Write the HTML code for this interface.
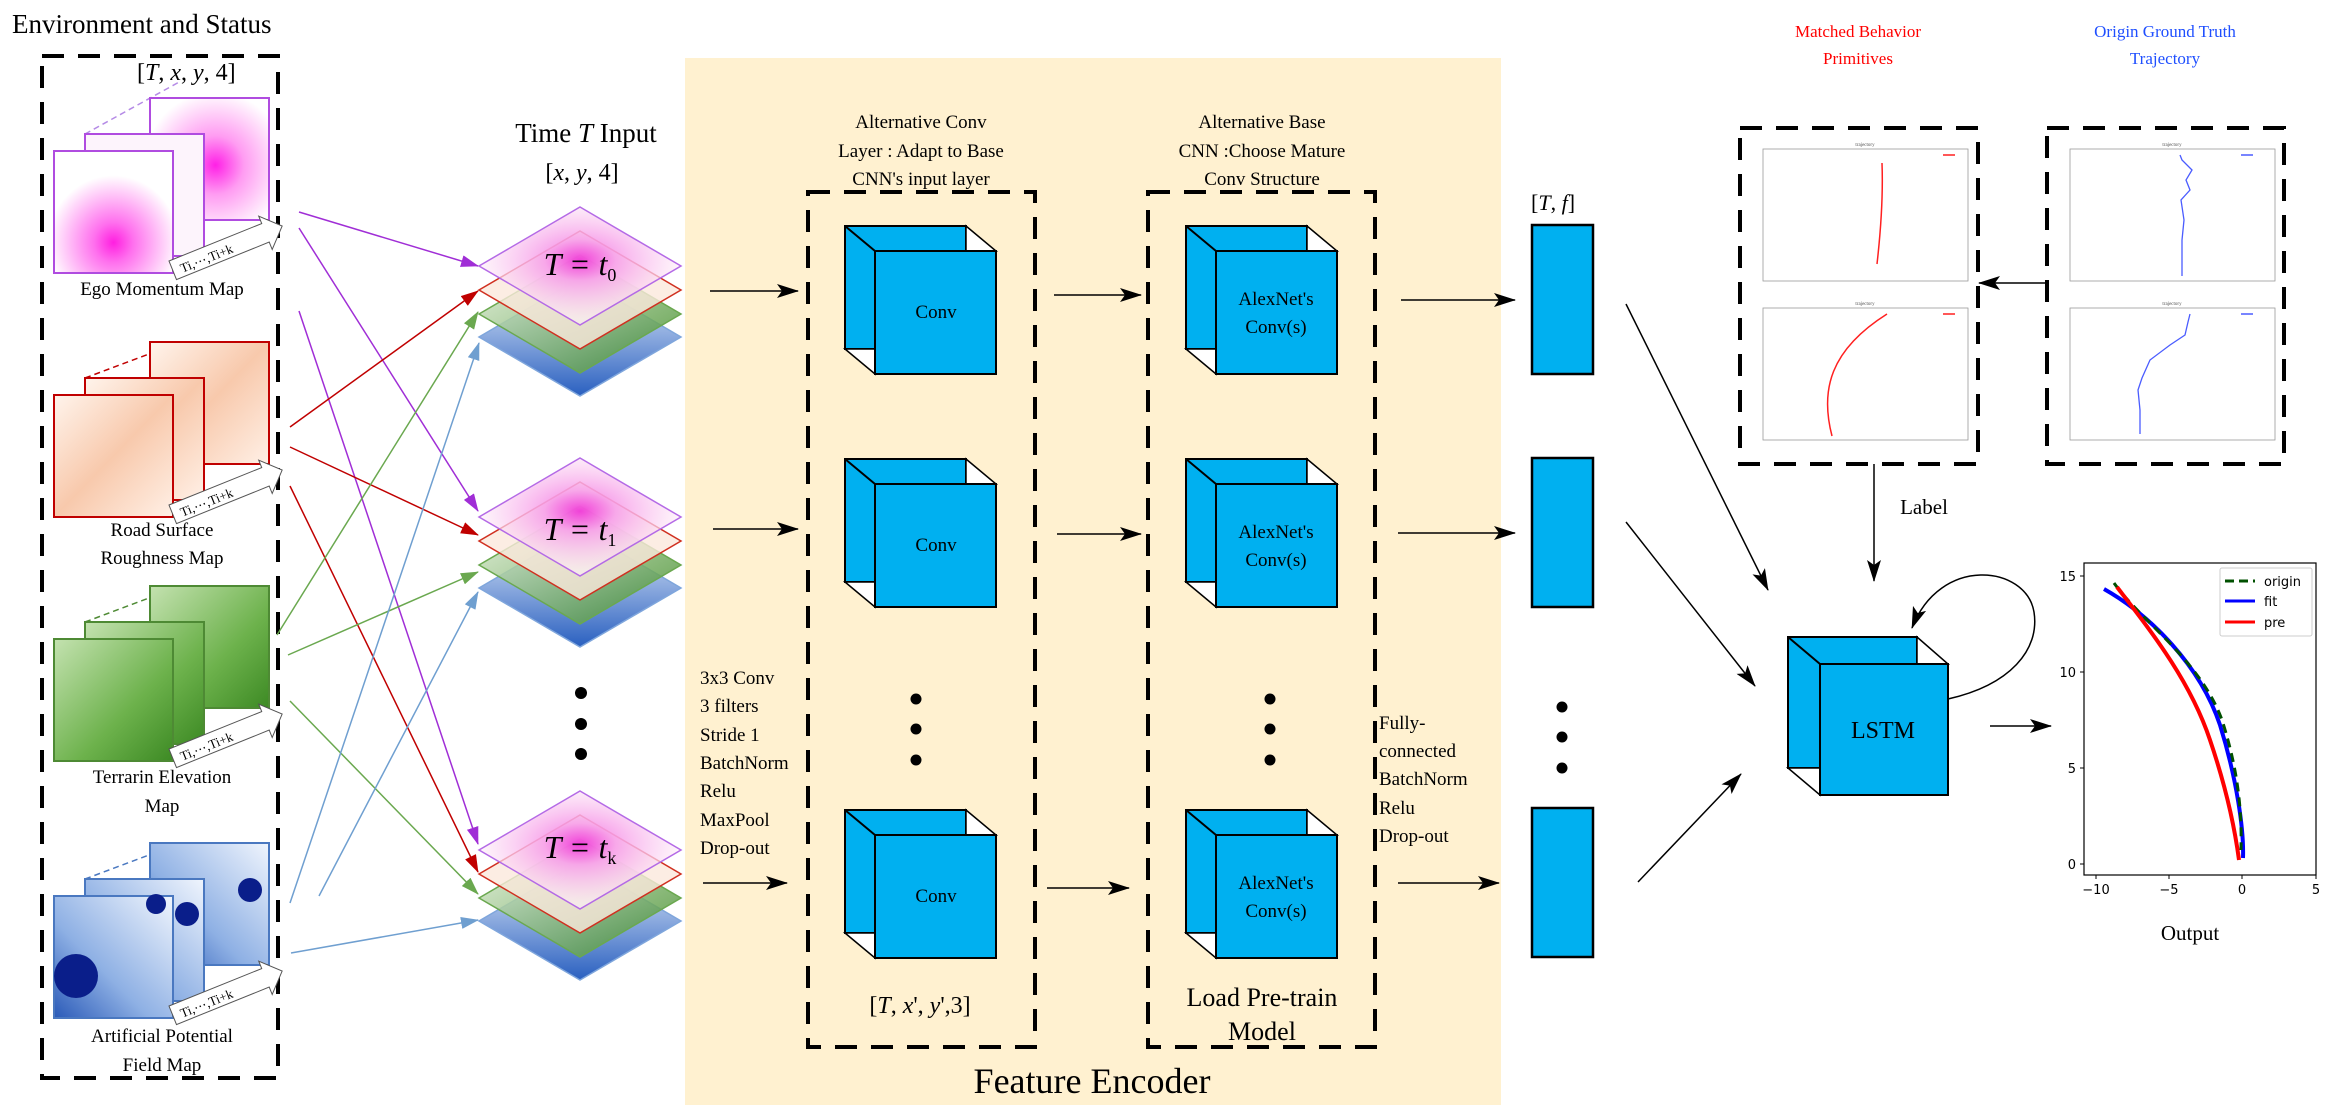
<!DOCTYPE html>
<html><head><meta charset="utf-8"><style>
html,body{margin:0;padding:0;background:#fff;}
svg{display:block;font-family:"Liberation Serif",serif;}
</style></head><body>
<svg width="2331" height="1109" viewBox="0 0 2331 1109" xmlns="http://www.w3.org/2000/svg">
<defs>
<marker id="ak" markerWidth="10" markerHeight="8" refX="9" refY="4" orient="auto" markerUnits="userSpaceOnUse" viewBox="0 0 10 8"><path d="M0,0 L10,4 L0,8 L2,4z" fill="#000"/></marker>
<marker id="ab" markerWidth="22" markerHeight="14" refX="21" refY="7" orient="auto" markerUnits="userSpaceOnUse" viewBox="0 0 22 14"><path d="M0,0 L22,7 L0,14 L5,7z" fill="#000"/></marker>
<marker id="ap" markerWidth="18" markerHeight="12" refX="17" refY="6" orient="auto" markerUnits="userSpaceOnUse" viewBox="0 0 18 12"><path d="M0,0 L18,6 L0,12z" fill="#a02ed6"/></marker>
<marker id="ar" markerWidth="18" markerHeight="12" refX="17" refY="6" orient="auto" markerUnits="userSpaceOnUse" viewBox="0 0 18 12"><path d="M0,0 L18,6 L0,12z" fill="#c00000"/></marker>
<marker id="ag" markerWidth="18" markerHeight="12" refX="17" refY="6" orient="auto" markerUnits="userSpaceOnUse" viewBox="0 0 18 12"><path d="M0,0 L18,6 L0,12z" fill="#6aa84f"/></marker>
<marker id="abl" markerWidth="18" markerHeight="12" refX="17" refY="6" orient="auto" markerUnits="userSpaceOnUse" viewBox="0 0 18 12"><path d="M0,0 L18,6 L0,12z" fill="#6f9fd0"/></marker>
<radialGradient id="gEgo" cx="0.5" cy="0.75" r="0.55"><stop offset="0" stop-color="#ff1fe0"/><stop offset="0.3" stop-color="#ff70ee"/><stop offset="1" stop-color="#fff"/></radialGradient>
<radialGradient id="gEgo2" cx="0.55" cy="0.55" r="0.6"><stop offset="0" stop-color="#ff20e6"/><stop offset="0.4" stop-color="#ff9cf2"/><stop offset="1" stop-color="#fff"/></radialGradient>
<linearGradient id="gRoad" x1="0" y1="0" x2="1" y2="1"><stop offset="0" stop-color="#fff4ec"/><stop offset="0.5" stop-color="#f8c9ac"/><stop offset="1" stop-color="#fff0e6"/></linearGradient>
<linearGradient id="gTer" x1="0" y1="0" x2="1" y2="1"><stop offset="0" stop-color="#c4e2b0"/><stop offset="0.6" stop-color="#6db24c"/><stop offset="1" stop-color="#3d8a24"/></linearGradient>
<linearGradient id="gApf" x1="1" y1="0" x2="0" y2="1"><stop offset="0" stop-color="#f0f5fd"/><stop offset="0.6" stop-color="#8eb0e4"/><stop offset="1" stop-color="#2a5ab8"/></linearGradient>
<linearGradient id="gBlueL" x1="0" y1="0" x2="0" y2="1"><stop offset="0" stop-color="#eaf2fc"/><stop offset="1" stop-color="#2a60c0"/></linearGradient>
<linearGradient id="gGreenL" x1="0" y1="0" x2="1" y2="1"><stop offset="0" stop-color="#e8f3e0"/><stop offset="1" stop-color="#3d8a24"/></linearGradient>
<radialGradient id="gTop" cx="0.5" cy="0.45" r="0.5"><stop offset="0" stop-color="#f030d8"/><stop offset="0.35" stop-color="#f7a0ea"/><stop offset="1" stop-color="#fdf0f8" stop-opacity="0.7"/></radialGradient>
<g id="cube">
<rect x="0" y="0" width="121" height="123" fill="#00b0f0" stroke="#000" stroke-width="2"/>
<polygon points="121,0 151,25 121,25" fill="#fff" stroke="#000" stroke-width="1.5"/>
<polygon points="0,123 30,148 30,123" fill="#fff" stroke="#000" stroke-width="1.5"/>
<line x1="0" y1="0" x2="30" y2="25" stroke="#000" stroke-width="2"/>
<rect x="30" y="25" width="121" height="123" fill="#00b0f0" stroke="#000" stroke-width="2"/>
</g>
<g id="stack">
<polygon points="0,71 101,130 0,189 -101,130" fill="url(#gBlueL)" stroke="#7fa6dc" stroke-width="1.5"/>
<polygon points="0,48 101,107 0,166 -101,107" fill="url(#gGreenL)" stroke="#6aa84f" stroke-width="1.5" fill-opacity="0.85"/>
<polygon points="0,24 101,83 0,142 -101,83" fill="#fbe8dc" stroke="#d03020" stroke-width="1.5" fill-opacity="0.8"/>
<polygon points="0,0 101,59 0,118 -101,59" fill="url(#gTop)" stroke="#b46ae6" stroke-width="1.5" fill-opacity="0.9"/>
</g>
<g id="tarrow">
<polygon points="0,0 100,0 100,-8 118,10 100,28 100,20 0,20" fill="#fff" stroke="#555" stroke-width="1"/>
<text x="8" y="16" font-size="13" fill="#000">Ti,⋯,Ti+k</text>
</g>
</defs>

<rect x="685" y="58" width="816" height="1047" fill="#fff1d0"/>

<text x="12" y="33" font-size="27">Environment and Status</text>
<rect x="42" y="56" width="236" height="1022" fill="none" stroke="#000" stroke-width="4" stroke-dasharray="22,14"/>
<text x="137" y="80" font-size="24">[<tspan font-style="italic">T</tspan>, <tspan font-style="italic">x</tspan>, <tspan font-style="italic">y</tspan>, 4]</text>

<g transform="translate(54,151)">
<line x1="31" y1="-17" x2="127" y2="-70" stroke="#b58be6" stroke-width="1.5" stroke-dasharray="6,4"/>
<line x1="150" y1="-17" x2="215" y2="-53" stroke="#b58be6" stroke-width="1.5" stroke-dasharray="6,4"/>
<rect x="96" y="-53" width="119" height="122" fill="url(#gEgo2)" stroke="#b04ce0" stroke-width="2"/>
<rect x="31" y="-17" width="119" height="122" fill="#fdf4fc" stroke="#b04ce0" stroke-width="2"/>
<rect x="0" y="0" width="119" height="122" fill="url(#gEgo)" stroke="#b04ce0" stroke-width="2"/>
<g transform="translate(115,110) rotate(-22)"><use href="#tarrow"/></g>
</g>
<text x="162" y="295" font-size="19" text-anchor="middle">Ego Momentum Map</text>
<g transform="translate(54,395)">
<line x1="31" y1="-17" x2="127" y2="-53" stroke="#c00000" stroke-width="1.5" stroke-dasharray="6,4"/>
<line x1="150" y1="-17" x2="215" y2="-53" stroke="#c00000" stroke-width="1.5" stroke-dasharray="6,4"/>
<rect x="96" y="-53" width="119" height="122" fill="url(#gRoad)" stroke="#c00000" stroke-width="2"/>
<rect x="31" y="-17" width="119" height="122" fill="url(#gRoad)" stroke="#c00000" stroke-width="2"/>
<rect x="0" y="0" width="119" height="122" fill="url(#gRoad)" stroke="#c00000" stroke-width="2"/>
<g transform="translate(115,110) rotate(-22)"><use href="#tarrow"/></g>
</g>
<text x="162" y="536" font-size="19" text-anchor="middle">Road Surface</text>
<text x="162" y="564" font-size="19" text-anchor="middle">Roughness Map</text>
<g transform="translate(54,639)">
<line x1="31" y1="-17" x2="127" y2="-53" stroke="#4e8a34" stroke-width="1.5" stroke-dasharray="6,4"/>
<line x1="150" y1="-17" x2="215" y2="-53" stroke="#4e8a34" stroke-width="1.5" stroke-dasharray="6,4"/>
<rect x="96" y="-53" width="119" height="122" fill="url(#gTer)" stroke="#4e8a34" stroke-width="2"/>
<rect x="31" y="-17" width="119" height="122" fill="url(#gTer)" stroke="#4e8a34" stroke-width="2"/>
<rect x="0" y="0" width="119" height="122" fill="url(#gTer)" stroke="#4e8a34" stroke-width="2"/>
<g transform="translate(115,110) rotate(-22)"><use href="#tarrow"/></g>
</g>
<text x="162" y="783" font-size="19" text-anchor="middle">Terrarin Elevation</text>
<text x="162" y="812" font-size="19" text-anchor="middle">Map</text>
<g transform="translate(54,896)">
<line x1="31" y1="-17" x2="127" y2="-53" stroke="#4a78c0" stroke-width="1.5" stroke-dasharray="6,4"/>
<line x1="150" y1="-17" x2="215" y2="-53" stroke="#4a78c0" stroke-width="1.5" stroke-dasharray="6,4"/>
<rect x="96" y="-53" width="119" height="122" fill="url(#gApf)" stroke="#4a78c0" stroke-width="2"/>
<circle cx="196" cy="-6" r="12" fill="#0a1e8a"/>
<rect x="31" y="-17" width="119" height="122" fill="url(#gApf)" stroke="#4a78c0" stroke-width="2"/>
<circle cx="133" cy="18" r="12" fill="#0a1e8a"/>
<rect x="0" y="0" width="119" height="122" fill="url(#gApf)" stroke="#4a78c0" stroke-width="2"/>
<circle cx="22" cy="80" r="22" fill="#0a1e8a"/>
<circle cx="102" cy="8" r="10" fill="#0a1e8a"/>
<g transform="translate(115,110) rotate(-22)"><use href="#tarrow"/></g>
</g>
<text x="162" y="1042" font-size="19" text-anchor="middle">Artificial Potential</text>
<text x="162" y="1071" font-size="19" text-anchor="middle">Field Map</text>

<text x="586" y="142" font-size="27" text-anchor="middle">Time <tspan font-style="italic">T</tspan> Input</text>
<text x="582" y="180" font-size="24" text-anchor="middle">[<tspan font-style="italic">x</tspan>, <tspan font-style="italic">y</tspan>, 4]</text>
<use href="#stack" x="580" y="207"/>
<use href="#stack" x="580" y="458"/>
<use href="#stack" x="580" y="791"/>
<text x="580" y="275" font-size="32" text-anchor="middle" font-style="italic">T = t<tspan font-size="18" font-style="normal" dy="6">0</tspan></text>
<text x="580" y="540" font-size="32" text-anchor="middle" font-style="italic">T = t<tspan font-size="18" font-style="normal" dy="6">1</tspan></text>
<text x="580" y="858" font-size="32" text-anchor="middle" font-style="italic">T = t<tspan font-size="18" font-style="normal" dy="6">k</tspan></text>
<circle cx="581" cy="693" r="6"/><circle cx="581" cy="724" r="6"/><circle cx="581" cy="754" r="6"/>

<g stroke-width="1.5" fill="none">
<line x1="299" y1="212" x2="478" y2="266" stroke="#a02ed6" marker-end="url(#ap)"/>
<line x1="299" y1="228" x2="478" y2="511" stroke="#a02ed6" marker-end="url(#ap)"/>
<line x1="299" y1="311" x2="478" y2="844" stroke="#a02ed6" marker-end="url(#ap)"/>
<line x1="290" y1="427" x2="478" y2="291" stroke="#c00000" marker-end="url(#ar)"/>
<line x1="290" y1="447" x2="478" y2="535" stroke="#c00000" marker-end="url(#ar)"/>
<line x1="290" y1="486" x2="478" y2="872" stroke="#c00000" marker-end="url(#ar)"/>
<line x1="277" y1="635" x2="478" y2="312" stroke="#6aa84f" marker-end="url(#ag)"/>
<line x1="288" y1="655" x2="478" y2="572" stroke="#6aa84f" marker-end="url(#ag)"/>
<line x1="290" y1="701" x2="478" y2="894" stroke="#6aa84f" marker-end="url(#ag)"/>
<line x1="290" y1="903" x2="479" y2="343" stroke="#6f9fd0" marker-end="url(#abl)"/>
<line x1="319" y1="896" x2="478" y2="592" stroke="#6f9fd0" marker-end="url(#abl)"/>
<line x1="291" y1="953" x2="478" y2="920" stroke="#6f9fd0" marker-end="url(#abl)"/>
</g>

<g font-size="19" text-anchor="middle">
<text x="921" y="128">Alternative Conv</text>
<text x="921" y="157">Layer : Adapt to Base</text>
<text x="921" y="185">CNN's input layer</text>
<text x="1262" y="128">Alternative Base</text>
<text x="1262" y="157">CNN :Choose Mature</text>
<text x="1262" y="185">Conv Structure</text>
</g>
<rect x="808" y="192" width="227" height="855" fill="none" stroke="#000" stroke-width="4" stroke-dasharray="22,14"/>
<rect x="1148" y="192" width="227" height="855" fill="none" stroke="#000" stroke-width="4" stroke-dasharray="22,14"/>
<use href="#cube" x="845" y="226"/><use href="#cube" x="845" y="459"/><use href="#cube" x="845" y="810"/>
<use href="#cube" x="1186" y="226"/><use href="#cube" x="1186" y="459"/><use href="#cube" x="1186" y="810"/>
<g font-size="19" text-anchor="middle">
<text x="936" y="318">Conv</text><text x="936" y="551">Conv</text><text x="936" y="902">Conv</text>
<text x="1276" y="305">AlexNet's</text><text x="1276" y="333">Conv(s)</text>
<text x="1276" y="538">AlexNet's</text><text x="1276" y="566">Conv(s)</text>
<text x="1276" y="889">AlexNet's</text><text x="1276" y="917">Conv(s)</text>
</g>
<circle cx="916" cy="699" r="5.5"/><circle cx="916" cy="729" r="5.5"/><circle cx="916" cy="760" r="5.5"/>
<circle cx="1270" cy="699" r="5.5"/><circle cx="1270" cy="729" r="5.5"/><circle cx="1270" cy="760" r="5.5"/>
<text x="920" y="1013" font-size="24" text-anchor="middle">[<tspan font-style="italic">T</tspan>, <tspan font-style="italic">x</tspan>', <tspan font-style="italic">y</tspan>',3]</text>
<text x="1262" y="1006" font-size="26" text-anchor="middle">Load Pre-train</text>
<text x="1262" y="1040" font-size="26" text-anchor="middle">Model</text>
<text x="1092" y="1093" font-size="36" text-anchor="middle">Feature Encoder</text>
<g font-size="19">
<text x="700" y="684">3x3 Conv</text><text x="700" y="712">3 filters</text><text x="700" y="741">Stride 1</text>
<text x="700" y="769">BatchNorm</text><text x="700" y="797">Relu</text><text x="700" y="826">MaxPool</text><text x="700" y="854">Drop-out</text>
<text x="1379" y="729">Fully-</text><text x="1379" y="757">connected</text><text x="1379" y="785">BatchNorm</text>
<text x="1379" y="814">Relu</text><text x="1379" y="842">Drop-out</text>
</g>
<g stroke="#000" stroke-width="1.5" marker-end="url(#ab)">
<line x1="710" y1="291" x2="798" y2="291"/><line x1="713" y1="529" x2="798" y2="529"/><line x1="703" y1="883" x2="787" y2="883"/>
<line x1="1054" y1="295" x2="1141" y2="295"/><line x1="1057" y1="534" x2="1141" y2="534"/><line x1="1047" y1="888" x2="1129" y2="888"/>
<line x1="1401" y1="300" x2="1515" y2="300"/><line x1="1398" y1="533" x2="1515" y2="533"/><line x1="1398" y1="883" x2="1499" y2="883"/>
</g>

<text x="1531" y="210" font-size="22">[<tspan font-style="italic">T</tspan>, <tspan font-style="italic">f</tspan>]</text>
<rect x="1532" y="225" width="61" height="149" fill="#00b0f0" stroke="#000" stroke-width="2.5"/>
<rect x="1532" y="458" width="61" height="149" fill="#00b0f0" stroke="#000" stroke-width="2.5"/>
<rect x="1532" y="808" width="61" height="149" fill="#00b0f0" stroke="#000" stroke-width="2.5"/>
<circle cx="1562" cy="707" r="5.5"/><circle cx="1562" cy="737" r="5.5"/><circle cx="1562" cy="768" r="5.5"/>
<g stroke="#000" stroke-width="1.5" marker-end="url(#ab)">
<line x1="1626" y1="304" x2="1768" y2="590"/>
<line x1="1626" y1="522" x2="1755" y2="686"/>
<line x1="1638" y1="882" x2="1741" y2="774"/>
<line x1="1874" y1="464" x2="1874" y2="581"/>
<line x1="2047" y1="283" x2="1979" y2="283"/>
<line x1="1990" y1="726" x2="2051" y2="726"/>
</g>

<rect x="1788" y="637" width="129" height="131" fill="#00b0f0" stroke="#000" stroke-width="2"/>
<polygon points="1917,637 1948,664 1917,664" fill="#fff" stroke="#000" stroke-width="1.5"/>
<polygon points="1788,768 1820,795 1820,768" fill="#fff" stroke="#000" stroke-width="1.5"/>
<line x1="1788" y1="637" x2="1820" y2="664" stroke="#000" stroke-width="2"/>
<rect x="1820" y="664" width="128" height="131" fill="#00b0f0" stroke="#000" stroke-width="2"/>
<text x="1883" y="738" font-size="24" text-anchor="middle">LSTM</text>
<path d="M1948,699 C2010,685 2040,650 2034,612 C2026,565 1940,555 1912,628" fill="none" stroke="#000" stroke-width="1.5" marker-end="url(#ab)"/>
<text x="1924" y="514" font-size="21" text-anchor="middle">Label</text>

<text x="1858" y="37" font-size="17" fill="#ff0000" text-anchor="middle">Matched Behavior</text>
<text x="1858" y="64" font-size="17" fill="#ff0000" text-anchor="middle">Primitives</text>
<text x="2165" y="37" font-size="17" fill="#1f4fff" text-anchor="middle">Origin Ground Truth</text>
<text x="2165" y="64" font-size="17" fill="#1f4fff" text-anchor="middle">Trajectory</text>
<rect x="1740" y="128" width="238" height="336" fill="none" stroke="#000" stroke-width="4" stroke-dasharray="22,14"/>
<rect x="2047" y="128" width="237" height="336" fill="none" stroke="#000" stroke-width="4" stroke-dasharray="22,14"/>
<g fill="none" stroke="#999" stroke-width="0.8">
<rect x="1763" y="149" width="205" height="132"/><rect x="1763" y="308" width="205" height="132"/>
<rect x="2070" y="149" width="205" height="132"/><rect x="2070" y="308" width="205" height="132"/>
</g>
<g font-size="5" fill="#555" text-anchor="middle">
<text x="1865" y="146">trajectory</text><text x="1865" y="305">trajectory</text>
<text x="2172" y="146">trajectory</text><text x="2172" y="305">trajectory</text>
</g>
<path d="M1877,264 C1882,220 1883,190 1882,163" fill="none" stroke="#ff2020" stroke-width="1.5"/>
<path d="M1832,436 C1820,390 1830,350 1887,314" fill="none" stroke="#ff2020" stroke-width="1.5"/>
<path d="M2182,276 L2182,240 L2184,220 L2181,200 L2190,190 L2186,180 L2192,170 L2182,160 L2180,155" fill="none" stroke="#4a5cff" stroke-width="1.3"/>
<path d="M2140,434 L2140,410 L2138,390 L2142,378 L2150,360 L2170,345 L2185,335 L2188,322 L2190,314" fill="none" stroke="#4a5cff" stroke-width="1.3"/>
<line x1="1943" y1="155" x2="1955" y2="155" stroke="#ff2020" stroke-width="1.5"/>
<line x1="1943" y1="314" x2="1955" y2="314" stroke="#ff2020" stroke-width="1.5"/>
<line x1="2241" y1="155" x2="2253" y2="155" stroke="#4a5cff" stroke-width="1.5"/>
<line x1="2241" y1="314" x2="2253" y2="314" stroke="#4a5cff" stroke-width="1.5"/>

<rect x="2084" y="563" width="232" height="312" fill="#fff" stroke="#000" stroke-width="1.2"/>
<g stroke="#000" stroke-width="1">
<line x1="2080" y1="576" x2="2084" y2="576"/><line x1="2080" y1="672" x2="2084" y2="672"/>
<line x1="2080" y1="768" x2="2084" y2="768"/><line x1="2080" y1="864" x2="2084" y2="864"/>
<line x1="2096" y1="875" x2="2096" y2="879"/><line x1="2169" y1="875" x2="2169" y2="879"/>
<line x1="2242" y1="875" x2="2242" y2="879"/><line x1="2316" y1="875" x2="2316" y2="879"/>
</g>
<g font-family="'DejaVu Sans',sans-serif" font-size="13">
<text x="2076" y="581" text-anchor="end">15</text><text x="2076" y="677" text-anchor="end">10</text>
<text x="2076" y="773" text-anchor="end">5</text><text x="2076" y="869" text-anchor="end">0</text>
<text x="2096" y="894" text-anchor="middle">−10</text><text x="2169" y="894" text-anchor="middle">−5</text>
<text x="2242" y="894" text-anchor="middle">0</text><text x="2316" y="894" text-anchor="middle">5</text>
</g>
<path d="M2104,589 C2150,615 2200,665 2220,725 C2237,780 2244,830 2243,858" fill="none" stroke="#0000ff" stroke-width="4"/>
<path d="M2114,583 C2140,620 2200,660 2222,720 C2238,770 2242,810 2241,850" fill="none" stroke="#005000" stroke-width="3" stroke-dasharray="9,6"/>
<path d="M2117,587 C2150,630 2190,680 2210,740 C2227,790 2235,830 2239,860" fill="none" stroke="#ff0000" stroke-width="4"/>
<rect x="2220" y="568" width="92" height="68" fill="#fff" stroke="#ccc" stroke-width="1" rx="2"/>
<line x1="2225" y1="581" x2="2255" y2="581" stroke="#005000" stroke-width="3" stroke-dasharray="9,5"/>
<line x1="2225" y1="601" x2="2255" y2="601" stroke="#0000ff" stroke-width="3"/>
<line x1="2225" y1="622" x2="2255" y2="622" stroke="#ff0000" stroke-width="3"/>
<g font-family="'DejaVu Sans',sans-serif" font-size="13">
<text x="2264" y="586">origin</text><text x="2264" y="606">fit</text><text x="2264" y="627">pre</text>
</g>
<text x="2190" y="940" font-size="21" text-anchor="middle">Output</text>
</svg>
</body></html>
